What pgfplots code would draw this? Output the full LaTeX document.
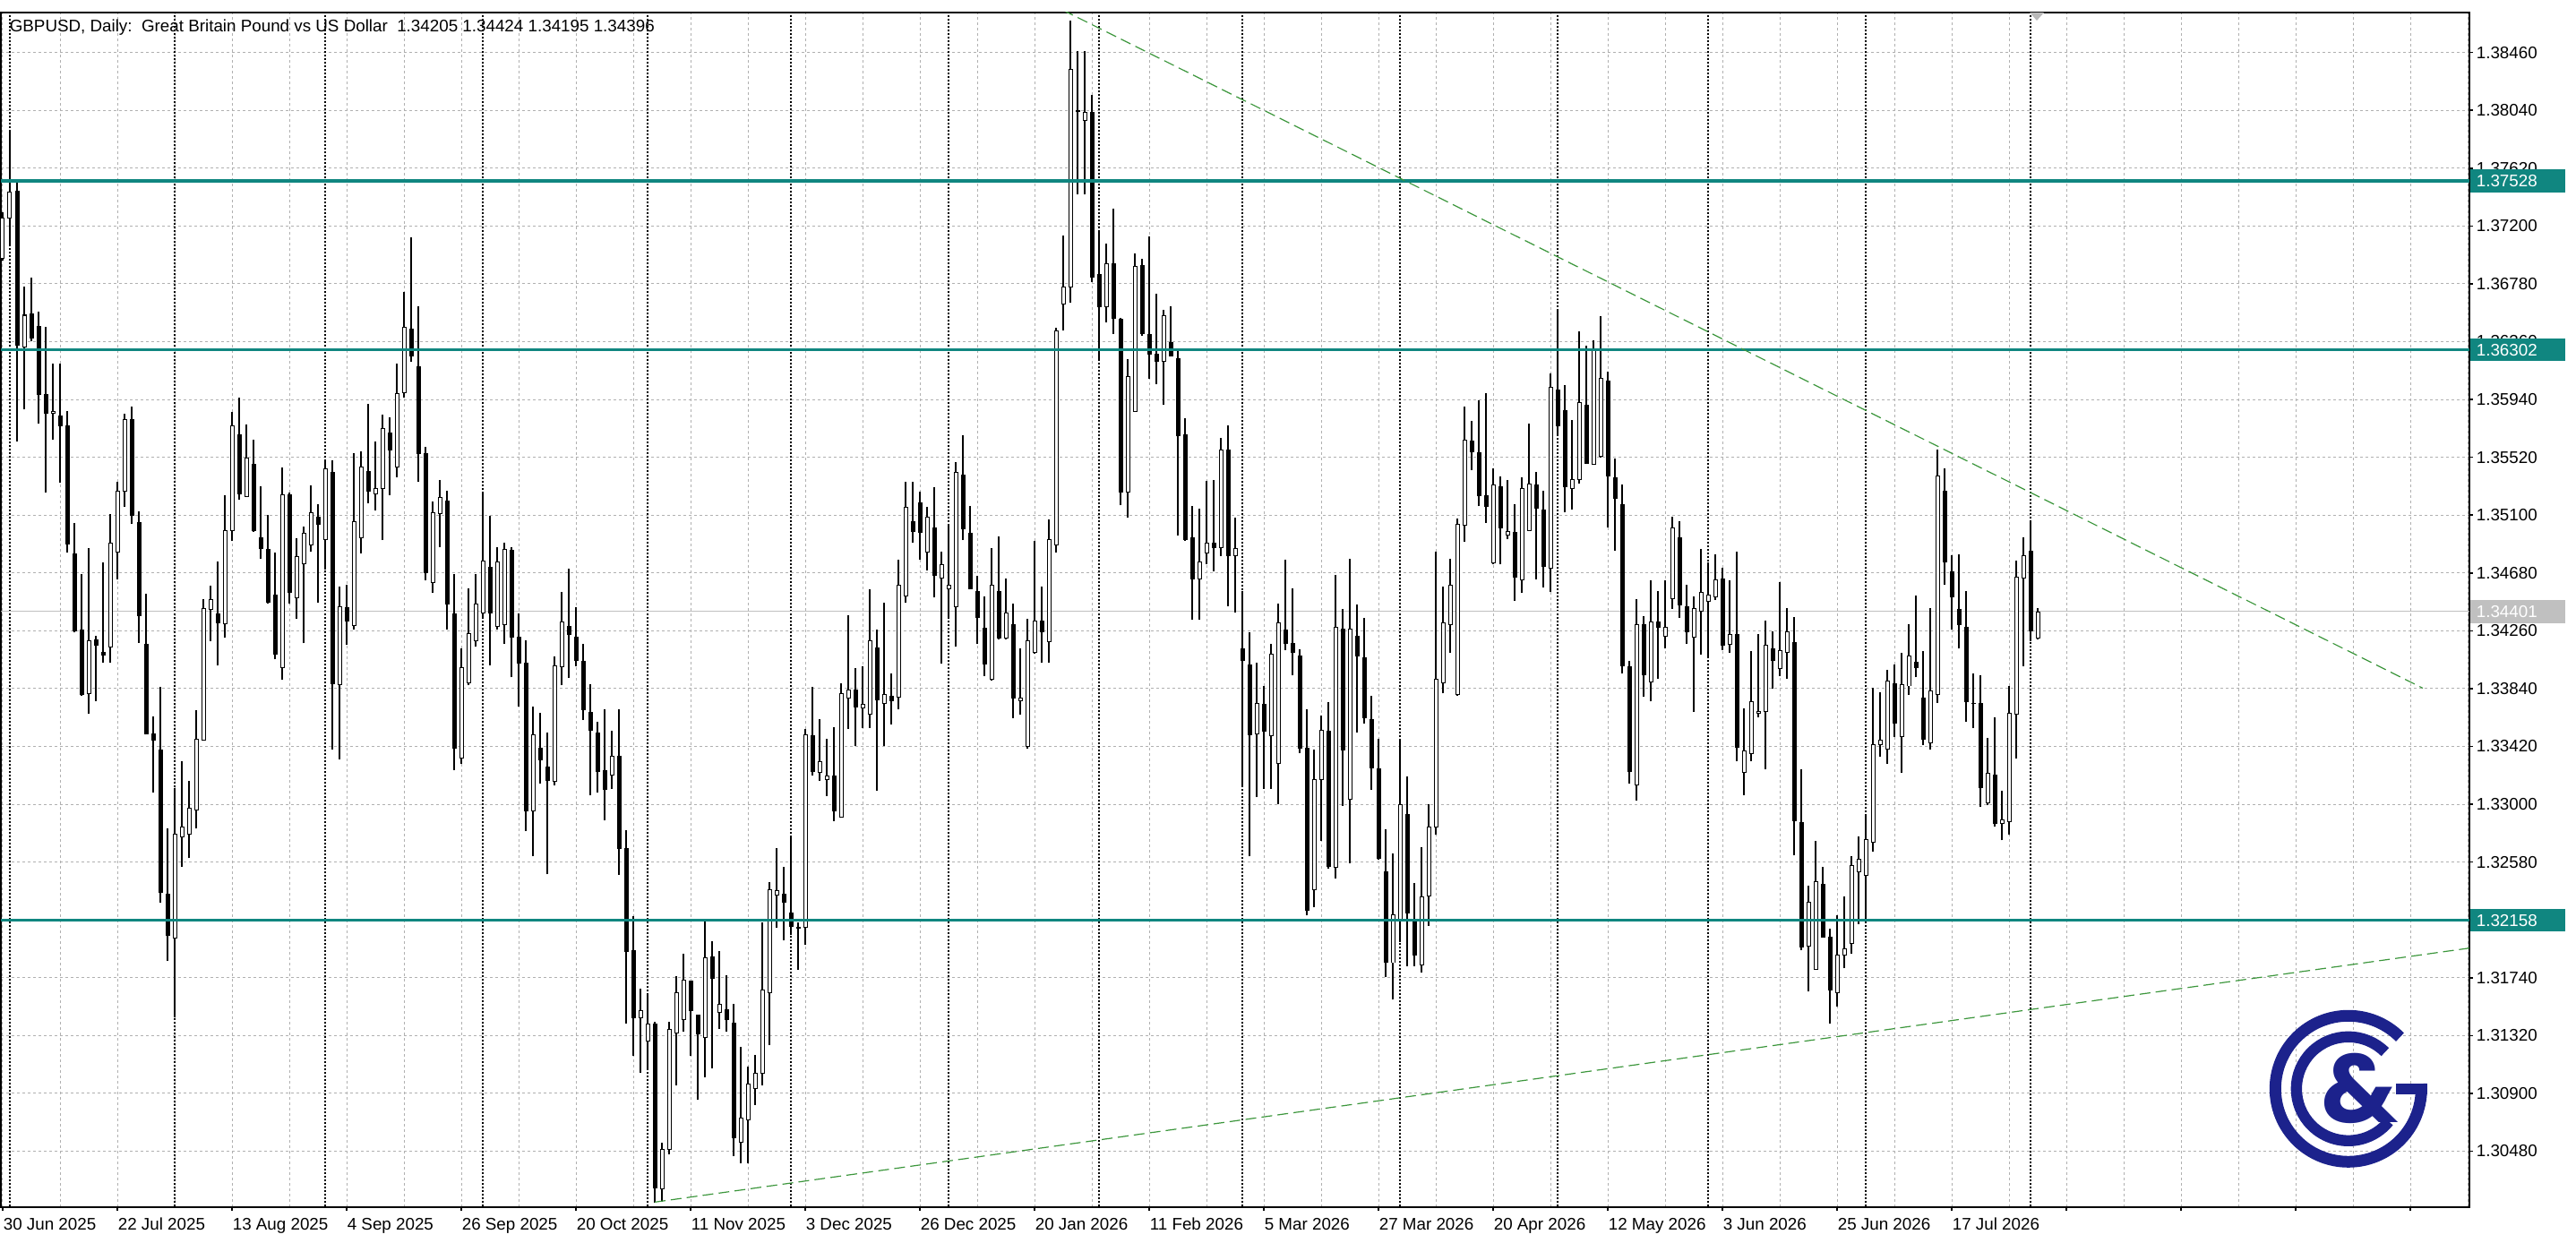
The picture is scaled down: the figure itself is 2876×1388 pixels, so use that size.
\documentclass[border=0pt]{standalone}
\usepackage{fontspec}
\setmainfont{Liberation Sans}
\newfontfamily\logofont{Poppins}
\usepackage{pgfplots}
\usepackage{pgfplotstable}
\pgfplotsset{compat=1.18}
\definecolor{tealline}{RGB}{16,134,128}
\definecolor{trend}{RGB}{60,150,60}
\definecolor{bidgrey}{RGB}{192,192,192}
\definecolor{gridgrey}{RGB}{176,176,176}
\definecolor{logoblue}{RGB}{28,34,140}

\pgfplotstableread{
i O H L C
0 1.36967 1.37300 1.36950 1.37258
1 1.37258 1.37893 1.37050 1.37445
2 1.37453 1.37528 1.35638 1.36332
3 1.36324 1.36760 1.35867 1.36552
4 1.36560 1.36822 1.36365 1.36386
5 1.36469 1.36581 1.35763 1.35979
6 1.35979 1.36469 1.35265 1.35838
7 1.35838 1.36199 1.35647 1.35854
8 1.35817 1.36199 1.35335 1.35751
9 1.35751 1.35859 1.34829 1.34891
10 1.34816 1.35045 1.34247 1.34260
11 1.34268 1.34675 1.33790 1.33799
12 1.33803 1.34862 1.33657 1.34185
13 1.34193 1.34226 1.33749 1.34152
14 1.34102 1.34754 1.34027 1.34081
15 1.34143 1.35107 1.34027 1.34899
16 1.34829 1.35339 1.34633 1.35273
17 1.35273 1.35838 1.35161 1.35796
18 1.35796 1.35888 1.35036 1.35098
19 1.35045 1.35128 1.34172 1.34372
20 1.34164 1.34530 1.33505 1.33512
21 1.33512 1.33637 1.33084 1.33466
22 1.33396 1.33853 1.32287 1.32358
23 1.32345 1.32823 1.31859 1.32046
24 1.32025 1.33118 1.31450 1.32781
25 1.32764 1.33313 1.32544 1.32835
26 1.32781 1.33168 1.32607 1.32972
27 1.32960 1.33686 1.32823 1.33470
28 1.33466 1.34488 1.33460 1.34422
29 1.34413 1.34588 1.34185 1.34488
30 1.34380 1.34766 1.34006 1.34318
31 1.34310 1.35242 1.34207 1.34988
32 1.34988 1.35849 1.34911 1.35746
33 1.35686 1.35953 1.35211 1.35255
34 1.35236 1.35759 1.35230 1.35513
35 1.35469 1.35650 1.34980 1.34988
36 1.34936 1.35311 1.34781 1.34859
37 1.34854 1.35099 1.34460 1.34466
38 1.34517 1.34828 1.34052 1.34091
39 1.33995 1.35443 1.33902 1.35247
40 1.35250 1.35267 1.34460 1.34538
41 1.34497 1.34931 1.34349 1.34802
42 1.34745 1.35014 1.34168 1.34970
43 1.34885 1.35314 1.34833 1.35120
44 1.35086 1.35177 1.34466 1.35030
45 1.34923 1.35500 1.34704 1.35436
46 1.35410 1.35495 1.33400 1.33876
47 1.33871 1.34582 1.33328 1.34435
48 1.34427 1.34595 1.34160 1.34331
49 1.34298 1.35552 1.34272 1.35053
50 1.34936 1.35565 1.34823 1.35448
51 1.35417 1.35906 1.35185 1.35273
52 1.35255 1.35635 1.35133 1.35293
53 1.35293 1.35829 1.34918 1.35728
54 1.35694 1.35811 1.35247 1.35573
55 1.35448 1.36199 1.35376 1.35986
56 1.35992 1.36721 1.35953 1.36462
57 1.36452 1.37120 1.36211 1.36255
58 1.36178 1.36618 1.35340 1.35547
59 1.35544 1.35599 1.34626 1.34680
60 1.34613 1.35201 1.34533 1.35118
61 1.35112 1.35356 1.34868 1.35230
62 1.35201 1.35274 1.34269 1.34451
63 1.34383 1.34671 1.33246 1.33407
64 1.33334 1.34133 1.33296 1.33995
65 1.33884 1.34569 1.33863 1.34239
66 1.34186 1.34671 1.34142 1.34451
67 1.34392 1.35268 1.34348 1.34766
68 1.34724 1.35098 1.34010 1.34386
69 1.34289 1.34868 1.34269 1.34760
70 1.34304 1.34898 1.34166 1.34848
71 1.34842 1.34868 1.33922 1.34216
72 1.34216 1.34386 1.33710 1.34025
73 1.34025 1.34192 1.32805 1.32952
74 1.32952 1.33710 1.32622 1.33504
75 1.33407 1.33663 1.33152 1.33325
76 1.33269 1.33519 1.32490 1.33172
77 1.33163 1.34075 1.33137 1.34004
78 1.34001 1.34545 1.33863 1.34325
79 1.34289 1.34710 1.33916 1.34230
80 1.34216 1.34430 1.34004 1.34045
81 1.34039 1.34163 1.33613 1.33687
82 1.33666 1.33872 1.33063 1.33540
83 1.33516 1.33598 1.33084 1.33240
84 1.33246 1.33687 1.32884 1.33108
85 1.33210 1.33534 1.33113 1.33349
86 1.33349 1.33693 1.32487 1.32681
87 1.32681 1.32811 1.31408 1.31932
88 1.31938 1.32187 1.31173 1.31447
89 1.31447 1.31658 1.31050 1.31502
90 1.31282 1.31624 1.31076 1.31401
91 1.31401 1.31420 1.30103 1.30211
92 1.30204 1.30543 1.30110 1.30492
93 1.30492 1.31419 1.30456 1.31365
94 1.31336 1.31751 1.30957 1.31628
95 1.31437 1.31913 1.31347 1.31725
96 1.31714 1.31720 1.31174 1.31502
97 1.31466 1.31470 1.30853 1.31329
98 1.31303 1.32158 1.31015 1.31888
99 1.31888 1.32007 1.31083 1.31736
100 1.31491 1.31931 1.31365 1.31545
101 1.31509 1.31761 1.31347 1.31437
102 1.31412 1.31552 1.30445 1.30579
103 1.30543 1.31239 1.30391 1.30723
104 1.30708 1.31094 1.30391 1.30968
105 1.30932 1.31177 1.30817 1.31047
106 1.31047 1.32140 1.30961 1.31653
107 1.31628 1.32436 1.31249 1.32382
108 1.32338 1.32681 1.32104 1.32374
109 1.32349 1.32548 1.32014 1.32291
110 1.32212 1.32760 1.32050 1.32111
111 1.32104 1.32140 1.31797 1.32100
112 1.32104 1.33546 1.31978 1.33503
113 1.33499 1.33853 1.33211 1.33240
114 1.33233 1.33618 1.33168 1.33312
115 1.33182 1.33474 1.33060 1.33204
116 1.33204 1.33557 1.32879 1.32951
117 1.32908 1.33878 1.32900 1.33806
118 1.33774 1.34376 1.33546 1.33828
119 1.33828 1.33990 1.33420 1.33709
120 1.33698 1.33999 1.33555 1.33726
121 1.33651 1.34562 1.33555 1.34187
122 1.34133 1.34269 1.33100 1.33758
123 1.33734 1.34465 1.33423 1.33794
124 1.33787 1.33948 1.33580 1.33751
125 1.33776 1.34779 1.33687 1.34590
126 1.34512 1.35340 1.34465 1.35154
127 1.35054 1.35340 1.34901 1.34983
128 1.35190 1.35268 1.34776 1.34976
129 1.34829 1.35161 1.34697 1.35083
130 1.35008 1.35304 1.34501 1.34662
131 1.34644 1.34833 1.34019 1.34740
132 1.34562 1.35029 1.34358 1.34590
133 1.34437 1.35483 1.34144 1.35411
134 1.35393 1.35679 1.34919 1.35001
135 1.34965 1.35168 1.34560 1.34565
136 1.34547 1.34662 1.34162 1.34358
137 1.34276 1.34508 1.33930 1.34019
138 1.33905 1.34858 1.33900 1.34590
139 1.34544 1.34947 1.34200 1.34208
140 1.34208 1.34637 1.34198 1.34387
141 1.34305 1.34458 1.33626 1.33769
142 1.33751 1.34133 1.33651 1.33769
143 1.33419 1.34347 1.33401 1.34190
144 1.34101 1.34911 1.34095 1.34333
145 1.34333 1.34583 1.34026 1.34251
146 1.34180 1.35072 1.34026 1.34922
147 1.34883 1.36464 1.34829 1.36436
148 1.36632 1.37132 1.36439 1.36757
149 1.36757 1.38695 1.36643 1.38338
150 1.38040 1.38470 1.37429 1.38030
151 1.37968 1.38470 1.37429 1.38023
152 1.38023 1.38151 1.36795 1.36831
153 1.36850 1.37161 1.36227 1.36612
154 1.36612 1.37070 1.36502 1.36923
155 1.36923 1.37326 1.36417 1.36527
156 1.36520 1.36530 1.35171 1.35266
157 1.35266 1.36234 1.35083 1.36106
158 1.35853 1.37004 1.35850 1.36905
159 1.36916 1.36960 1.36403 1.36417
160 1.36410 1.37125 1.36087 1.36271
161 1.36271 1.36710 1.36051 1.36219
162 1.36216 1.36593 1.35904 1.36546
163 1.36355 1.36619 1.36250 1.36256
164 1.36234 1.36300 1.34951 1.35677
165 1.35684 1.35805 1.34914 1.34925
166 1.34936 1.35164 1.34339 1.34639
167 1.34639 1.35145 1.34339 1.34760
168 1.34826 1.35347 1.34742 1.34896
169 1.34896 1.35358 1.34694 1.34863
170 1.34863 1.35658 1.34804 1.35574
171 1.35574 1.35750 1.34441 1.34804
172 1.34804 1.35079 1.34394 1.34859
173 1.34130 1.34548 1.33129 1.34045
174 1.34009 1.34247 1.32620 1.33507
175 1.33514 1.34027 1.33050 1.33734
176 1.33723 1.33862 1.33111 1.33532
177 1.33496 1.34166 1.33111 1.34093
178 1.33294 1.34456 1.33000 1.34320
179 1.34265 1.34775 1.34118 1.34166
180 1.34170 1.34570 1.33937 1.34100
181 1.34080 1.34128 1.33374 1.33410
182 1.33405 1.33692 1.32192 1.32228
183 1.32378 1.33396 1.32251 1.33180
184 1.33180 1.33644 1.32735 1.33537
185 1.33529 1.33742 1.32530 1.32546
186 1.32544 1.34668 1.32462 1.34288
187 1.34274 1.34418 1.32988 1.33391
188 1.33039 1.34781 1.32572 1.34269
189 1.34221 1.34452 1.33523 1.34080
190 1.34066 1.34353 1.33588 1.33627
191 1.33616 1.33785 1.33106 1.33264
192 1.33256 1.33472 1.32600 1.32608
193 1.32510 1.32819 1.31742 1.31854
194 1.31849 1.32642 1.31580 1.32200
195 1.32158 1.33467 1.32000 1.32997
196 1.32924 1.33199 1.31826 1.32209
197 1.32158 1.32425 1.31826 1.31905
198 1.31834 1.32687 1.31778 1.32327
199 1.32333 1.33002 1.32116 1.32833
200 1.32833 1.34832 1.32777 1.33908
201 1.33883 1.34578 1.33804 1.34319
202 1.34305 1.34781 1.34100 1.34592
203 1.33796 1.35076 1.33790 1.35034
204 1.35029 1.35887 1.34908 1.35642
205 1.35639 1.35783 1.35428 1.35558
206 1.35555 1.35935 1.35164 1.35240
207 1.35240 1.35985 1.35043 1.35164
208 1.34753 1.35437 1.34742 1.35318
209 1.35304 1.35380 1.34742 1.35006
210 1.34955 1.35354 1.34923 1.34980
211 1.34972 1.35177 1.34480 1.34652
212 1.34628 1.35374 1.34536 1.35292
213 1.34990 1.35765 1.34985 1.35329
214 1.35322 1.35416 1.34632 1.35152
215 1.35140 1.35280 1.34573 1.34726
216 1.34714 1.36130 1.34541 1.36031
217 1.36007 1.36598 1.35681 1.35748
218 1.35859 1.36043 1.35120 1.35305
219 1.35292 1.35790 1.35140 1.35361
220 1.35361 1.36437 1.35329 1.35915
221 1.35901 1.36332 1.35470 1.35477
222 1.35470 1.36371 1.35465 1.36307
223 1.35526 1.36543 1.35520 1.36093
224 1.36075 1.36142 1.35009 1.35386
225 1.35371 1.35514 1.34844 1.35219
226 1.35174 1.35322 1.33950 1.34007
227 1.34000 1.34041 1.33150 1.33236
228 1.33138 1.34492 1.33027 1.34307
229 1.34303 1.34369 1.33778 1.33938
230 1.33889 1.34628 1.33746 1.34327
231 1.34327 1.34546 1.33913 1.34283
232 1.34221 1.34628 1.34130 1.34283
233 1.34492 1.35091 1.34418 1.35009
234 1.34935 1.35059 1.34352 1.34448
235 1.34436 1.34591 1.34165 1.34251
236 1.34216 1.34509 1.33672 1.34423
237 1.34401 1.34854 1.34086 1.34541
238 1.34475 1.34756 1.34066 1.34517
239 1.34505 1.34812 1.34485 1.34632
240 1.34634 1.34716 1.34122 1.34155
241 1.34160 1.34625 1.34100 1.34231
242 1.34231 1.34833 1.33312 1.33411
243 1.33233 1.33698 1.33066 1.33389
244 1.33370 1.34114 1.33312 1.33745
245 1.33662 1.34237 1.33630 1.33676
246 1.33676 1.34333 1.33252 1.34155
247 1.34127 1.34259 1.33840 1.34045
248 1.33985 1.34614 1.33931 1.34114
249 1.34106 1.34428 1.33909 1.34251
250 1.34174 1.34360 1.32628 1.32883
251 1.32864 1.33252 1.31939 1.31961
252 1.31967 1.32410 1.31638 1.32289
253 1.31802 1.32732 1.31800 1.32437
254 1.32418 1.32547 1.32030 1.32035
255 1.32035 1.32098 1.31406 1.31652
256 1.31630 1.32191 1.31529 1.31906
257 1.31904 1.32328 1.31808 1.31953
258 1.31988 1.32623 1.31912 1.32555
259 1.32508 1.32765 1.32131 1.32601
260 1.32486 1.32924 1.32172 1.32746
261 1.32727 1.33848 1.32656 1.33430
262 1.33430 1.33813 1.33348 1.33466
263 1.33403 1.33977 1.33293 1.33895
264 1.33876 1.34018 1.33485 1.33586
265 1.33493 1.34100 1.33230 1.33868
266 1.33859 1.34305 1.33794 1.34078
267 1.34032 1.34516 1.33922 1.33991
268 1.33772 1.34114 1.33430 1.33471
269 1.33444 1.34428 1.33394 1.33821
270 1.33797 1.35579 1.33738 1.35386
271 1.35275 1.35440 1.34597 1.34760
272 1.34688 1.34808 1.34266 1.34505
273 1.34418 1.34814 1.34129 1.34303
274 1.34288 1.34549 1.33601 1.33742
275 1.33733 1.33951 1.33553 1.33730
276 1.33731 1.33934 1.32984 1.33118
277 1.33010 1.33484 1.32992 1.33227
278 1.33210 1.33629 1.32840 1.32862
279 1.32858 1.33101 1.32738 1.32884
280 1.32875 1.33862 1.32781 1.33658
281 1.33651 1.34771 1.33331 1.34647
282 1.34644 1.34940 1.34005 1.34803
283 1.34836 1.35064 1.34184 1.34260
284 1.34205 1.34424 1.34195 1.34396
}\candles

\begin{document}
\begin{tikzpicture}
\begin{axis}[
  at={(0pt,0pt)}, anchor=south west,
  scale only axis, width=689pt, height=333.5pt,
  xmin=-0.25, xmax=344.25, ymin=1.300732, ymax=1.387508,
  axis line style={black, line width=0.5pt},
  xtick={0,16,...,336},
  minor xtick={8,24,...,344},
  xticklabels={30 Jun 2025,22 Jul 2025,13 Aug 2025,4 Sep 2025,26 Sep 2025,20 Oct 2025,11 Nov 2025,3 Dec 2025,26 Dec 2025,20 Jan 2026,11 Feb 2026,5 Mar 2026,27 Mar 2026,20 Apr 2026,12 May 2026,3 Jun 2026,25 Jun 2026,17 Jul 2026,{},{},{},{}},
  ytick={1.3048,1.309,1.3132,1.3174,1.3216,1.3258,1.33,1.3342,1.3384,1.3426,1.3468,1.351,1.3552,1.3594,1.3636,1.3678,1.372,1.3762,1.3804,1.3846},
  yticklabels={1.30480,1.30900,1.31320,1.31740,1.32160,1.32580,1.33000,1.33420,1.33840,1.34260,1.34680,1.35100,1.35520,1.35940,1.36360,1.36780,1.37200,1.37620,1.38040,1.38460},
  xtick pos=left, ytick pos=right, yticklabel pos=right,
  tick align=outside,
  major tick length=0.9pt, minor tick length=0pt,
  tick style={black, line width=0.4pt},
  grid=both,
  major grid style={gridgrey, line width=0.25pt, dash pattern=on 0.75pt off 0.75pt},
  minor grid style={gridgrey, line width=0.25pt, dash pattern=on 0.75pt off 0.75pt},
  tick label style={font=\fontsize{4.7}{5.6}\selectfont},
  xticklabel style={anchor=north west, inner sep=0pt, yshift=-1.9pt},
  yticklabel style={anchor=west, inner sep=0pt, xshift=0.85pt},
  scaled y ticks=false,
  every axis plot/.append style={mark=none},
]
% month separators
\addplot[forget plot, draw=none, mark=none,
  error bars/.cd, y dir=plus, y explicit, error mark=none,
  error bar style={draw=black, line width=0.28pt, dash pattern=on 0.45pt off 0.55pt}]
  coordinates {(1,1.30) +- (0,0.09) (24,1.30) +- (0,0.09) (45,1.30) +- (0,0.09) (67,1.30) +- (0,0.09)
  (90,1.30) +- (0,0.09) (110,1.30) +- (0,0.09) (132,1.30) +- (0,0.09) (153,1.30) +- (0,0.09)
  (173,1.30) +- (0,0.09) (195,1.30) +- (0,0.09) (217,1.30) +- (0,0.09) (238,1.30) +- (0,0.09)
  (260,1.30) +- (0,0.09) (283,1.30) +- (0,0.09)};
% bid line
\addplot[forget plot, bidgrey, line width=0.3pt] coordinates {(-0.25,1.34401) (344.25,1.34401)};
% wicks
\addplot[forget plot, draw=none, mark=none,
  error bars/.cd, y dir=plus, y explicit, error mark=none,
  error bar style={draw=black, solid, line width=0.3pt}]
  table[x=i, y=L, y error plus expr={\thisrow{H}-\thisrow{L}}] {\candles};
% bodies (outline / bear fill)
\addplot[forget plot, draw=none, mark=none,
  error bars/.cd, y dir=plus, y explicit, error mark=none,
  error bar style={draw=black, solid, line width=1.25pt}]
  table[x=i, y expr={min(\thisrow{O},\thisrow{C})-0.0000325},
        y error plus expr={abs(\thisrow{C}-\thisrow{O})+0.000065}] {\candles};
% bull bodies (white inside)
\addplot[forget plot, draw=none, mark=none,
  error bars/.cd, y dir=plus, y explicit, error mark=none,
  error bar style={draw=white, solid, line width=0.75pt}]
  table[x=i, y expr={ifthenelse(\thisrow{C}>\thisrow{O}+0.000065, \thisrow{O}+0.0000325, 2)},
        y error plus expr={max(\thisrow{C}-\thisrow{O}-0.000065,0)}] {\candles};
% horizontal levels
\addplot[forget plot, tealline, line width=0.85pt] coordinates {(-0.25,1.37528) (344.25,1.37528)};
\addplot[forget plot, tealline, line width=0.85pt] coordinates {(-0.25,1.36302) (344.25,1.36302)};
\addplot[forget plot, tealline, line width=0.85pt] coordinates {(-0.25,1.32158) (344.25,1.32158)};
% trend lines
\addplot[forget plot, trend, line width=0.3pt, dash pattern=on 3pt off 1.5pt] coordinates {(148,1.38767) (337.75,1.33843)};
\addplot[forget plot, trend, line width=0.3pt, dash pattern=on 3pt off 1.5pt] coordinates {(91,1.30110) (344.25,1.31955)};
\end{axis}

\begin{scope}[x=0.25pt, y=-0.25pt, shift={(-0.25pt,337pt)}]
\useasboundingbox (0,0) rectangle (2876,1388);
\node[anchor=base west, inner sep=0pt, font=\fontsize{4.7}{5.6}\selectfont] at (10,36)
  {GBPUSD, Daily:\ \ Great Britain Pound vs US Dollar\ \ 1.34205 1.34424 1.34195 1.34396};
\fill[gray!55] (2266,14) -- (2282,14) -- (2274,23) -- cycle;
\node[anchor=west, fill=tealline, text=white, inner sep=0pt, inner xsep=1.75pt, minimum height=6.4pt, text width=23pt, align=left, font=\fontsize{4.7}{5.6}\selectfont] at (2757,202.2) {1.37528};
\node[anchor=west, fill=tealline, text=white, inner sep=0pt, inner xsep=1.75pt, minimum height=6.4pt, text width=23pt, align=left, font=\fontsize{4.7}{5.6}\selectfont] at (2757,390.6) {1.36302};
\node[anchor=west, fill=tealline, text=white, inner sep=0pt, inner xsep=1.75pt, minimum height=6.4pt, text width=23pt, align=left, font=\fontsize{4.7}{5.6}\selectfont] at (2757,1027.7) {1.32158};
\node[anchor=west, fill=bidgrey, text=white, inner sep=0pt, inner xsep=1.75pt, minimum height=6.4pt, text width=23pt, align=left, font=\fontsize{4.7}{5.6}\selectfont] at (2757,683) {1.34401};
\end{scope}

% logo
\begin{scope}[shift={(655.2pt,33.05pt)}, logoblue]
\draw[line width=3.25pt] (45:20.375pt) arc[start angle=45, end angle=364, radius=20.375pt];
\fill (13.3pt,1.45pt) rectangle (22.07pt,-1.55pt);
\draw[line width=3.1pt] (45:14.5pt) arc[start angle=45, end angle=321, radius=14.5pt];
\node[inner sep=0pt, font=\logofont\bfseries\fontsize{27}{27}\selectfont] at (3.1pt,0pt) {\&};
\end{scope}
\end{tikzpicture}
\end{document}
